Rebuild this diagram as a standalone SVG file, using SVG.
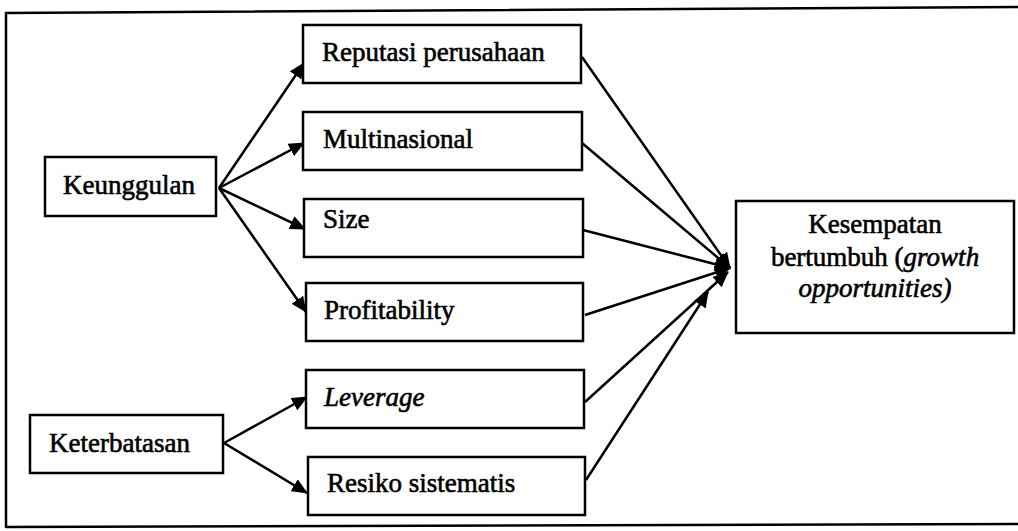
<svg xmlns="http://www.w3.org/2000/svg" width="1018" height="531" viewBox="0 0 1018 531">
<style>
.box{fill:#fff;stroke:#000;stroke-width:2.5}
.t{font-family:"Liberation Serif","Times New Roman",serif;font-size:27px;fill:#000;stroke:#000;stroke-width:0.6}
.i{font-style:italic}
.c{fill:none;stroke:#000;stroke-width:2.5}
</style>
<defs>
<marker id="ah" markerUnits="userSpaceOnUse" markerWidth="16" markerHeight="14" refX="15" refY="7" orient="auto">
<path d="M0,0 L16,7 L0,14 Z" fill="#000"/>
</marker>
</defs>
<path d="M6,528 L6,13 L1018,7 M6,527 L1018,524" fill="none" stroke="#000" stroke-width="2.5"/>
<g id="connectors">
<line class="c" x1="219" y1="188" x2="304" y2="63" marker-end="url(#ah)"/>
<line class="c" x1="219" y1="188" x2="304" y2="143" marker-end="url(#ah)"/>
<line class="c" x1="219" y1="188" x2="305" y2="229" marker-end="url(#ah)"/>
<line class="c" x1="219" y1="188" x2="306" y2="312" marker-end="url(#ah)"/>
<line class="c" x1="224" y1="443" x2="307" y2="397" marker-end="url(#ah)"/>
<line class="c" x1="224" y1="443" x2="307" y2="493" marker-end="url(#ah)"/>
<line class="c" x1="582" y1="57" x2="730" y2="268" marker-end="url(#ah)"/>
<line class="c" x1="582" y1="143" x2="730" y2="268" marker-end="url(#ah)"/>
<line class="c" x1="583" y1="230" x2="730" y2="268" marker-end="url(#ah)"/>
<line class="c" x1="585" y1="315" x2="730" y2="268" marker-end="url(#ah)"/>
<line class="c" x1="585" y1="402" x2="728" y2="272" marker-end="url(#ah)"/>
<line class="c" x1="586" y1="480" x2="708" y2="292" marker-end="url(#ah)"/>
</g>
<g id="keunggulan"><rect class="box" x="45" y="157" width="171" height="59"/><text class="t" x="63" y="194">Keunggulan</text></g>
<g id="keterbatasan"><rect class="box" x="30" y="415" width="193" height="58"/><text class="t" x="49" y="452">Keterbatasan</text></g>
<g id="reputasi"><rect class="box" x="303" y="25" width="278" height="58"/><text class="t" x="322" y="61">Reputasi perusahaan</text></g>
<g id="multinasional"><rect class="box" x="303" y="112" width="279" height="58"/><text class="t" x="323" y="148">Multinasional</text></g>
<g id="size"><rect class="box" x="304" y="199" width="279" height="58"/><text class="t" x="323" y="228">Size</text></g>
<g id="profitability"><rect class="box" x="306" y="283" width="277" height="58"/><text class="t" x="324" y="319">Profitability</text></g>
<g id="leverage"><rect class="box" x="306" y="370" width="278" height="58"/><text class="t i" x="324" y="406">Leverage</text></g>
<g id="resiko"><rect class="box" x="308" y="457" width="277" height="58"/><text class="t" x="327" y="492">Resiko sistematis</text></g>
<g id="kesempatan"><rect class="box" x="736" y="201" width="278" height="132"/>
<text class="t" x="875" y="233" text-anchor="middle">Kesempatan</text>
<text class="t" x="875" y="266" text-anchor="middle">bertumbuh (<tspan class="i">growth</tspan></text>
<text class="t i" x="875" y="297" text-anchor="middle">opportunities)</text>
</g>
</svg>
